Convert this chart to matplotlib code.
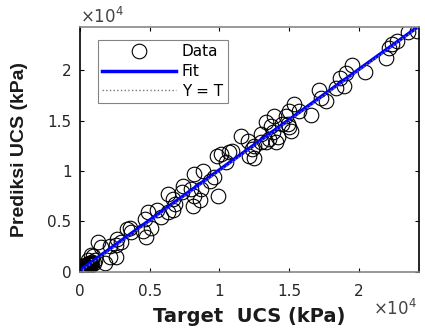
import matplotlib
matplotlib.use('Agg')
import matplotlib.pyplot as plt
import numpy as np

plt.rcParams['font.family'] = ['DejaVu Sans']

# ------------ Data (kPa) ---------------
target = [24150, 23500, 22700, 22350, 22150, 21930, 19500, 20430, 19070, 18640,
          18930, 18360, 17140, 17640, 17290, 15360, 15710, 16570, 14790, 15000,
          14500, 15000, 13930, 13360, 13710, 14930, 15140, 13860, 14210, 13570,
          13000, 13360, 14070, 11570, 12070, 12500, 13000, 10140, 9790, 10710,
          12500, 12360, 10930, 10500, 12140, 8210, 8790, 9640, 9290, 9860,
          7360, 7290, 6640, 8710, 8210, 8070, 7930, 6290, 6790, 6290,
          5790, 4860, 4640, 5070, 4710, 3570, 3640, 2930, 2570, 1290,
          1500, 790, 2570, 1790, 570, 2140, 2640, 3360, 4500, 5500,
          6640, 8570, 2140, 930,
          50, 100, 150, 200, 250, 300, 80, 120, 350, 400,
          450, 500, 60, 30, 180, 220, 280, 320, 380, 420,
          480, 550, 600, 650, 700, 750, 800, 900, 1000, 1100,
          40, 90, 140, 260, 20, 70, 160, 340, 520, 620]
pred = [23900, 23800, 22900, 22600, 22200, 21200, 20500, 19800, 19700, 19200,
        18400, 18200, 18000, 17000, 17200, 16700, 16000, 15600, 15500, 16000,
        14700, 14400, 15500, 14900, 14500, 14700, 14000, 13900, 13400, 13200,
        13700, 12900, 12900, 13500, 13000, 12500, 12900, 11700, 11500, 11900,
        11300, 12200, 12000, 10900, 11500, 9700, 10000, 9400, 9000, 7500,
        8500, 7900, 7200, 8200, 7500, 6500, 8200, 7700, 6700, 5900,
        5400, 5900, 5200, 4400, 3500, 4400, 4000, 3000, 2700, 3000,
        2500, 1700, 1500, 900, 1200, 2600, 3300, 4300, 4100, 6100,
        6100, 7100, 1500, 1600,
        80, 150, 60, 250, 180, 350, 300, 420, 200, 450,
        380, 600, 30, 120, 500, 80, 600, 450, 700, 550,
        300, 750, 500, 800, 650, 900, 700, 1000, 850, 1200,
        60, 220, 300, 320, 20, 160, 120, 520, 420, 900]

ticks = [0, 5000, 10000, 15000, 20000]
tick_labels = ['0', '0.5', '1', '1.5', '2']
lim = 24300

# ------------ Plot Setup ---------------
fig = plt.figure(figsize=(4.25, 3.28), dpi=100)
ax = fig.add_axes([0.188, 0.171, 0.798, 0.747])

p = np.polyfit(target, pred, 1)
xf = np.array([0, lim])

ax.plot(target, pred, 'o', mfc='none', mec='black', ms=10.5, mew=0.8, label='Data')
ax.plot(xf, np.polyval(p, xf), '-', color='#0000ff', lw=2.5, label='Fit')
ax.plot(xf, xf, ':', color='#777777', lw=1, label='Y = T')

ax.set_xlim(0, lim)
ax.set_ylim(0, lim)
ax.set_xticks(ticks)
ax.set_xticklabels(tick_labels)
ax.set_yticks(ticks)
ax.set_yticklabels(tick_labels)
ax.tick_params(direction='in', top=True, right=True, labelsize=11, length=3,
               labelcolor='#262626')
ax.tick_params(axis='x', pad=9)
ax.tick_params(axis='y', pad=6)

ax.set_xlabel('Target  UCS (kPa)', fontsize=14, fontweight='bold', color='#1a1a1a')
ax.xaxis.label.set_va('center')
ax.xaxis.set_label_coords(0.5, -0.184)
ax.set_ylabel('Prediksi UCS (kPa)', fontsize=14, fontweight='bold',
              family='Liberation Sans', color='#1a1a1a')
ax.yaxis.label.set_va('center')
ax.yaxis.set_label_coords(-0.177, 0.5)

ax.text(0.0, 1.016, r'$\times10^4$', transform=ax.transAxes, fontsize=12,
        ha='left', va='baseline', color='#444444')
ax.text(0.994, -0.176, r'$\times10^4$', transform=ax.transAxes, fontsize=12,
        ha='right', va='baseline', color='#444444')

for side in ['left', 'right']:
    ax.spines[side].set_color('black')
    ax.spines[side].set_linewidth(1.2)
for side in ['top', 'bottom']:
    ax.spines[side].set_color('#888888')
    ax.spines[side].set_linewidth(1.2)

leg = ax.legend(loc='upper left', bbox_to_anchor=(0.053, 0.947), fontsize=11,
                fancybox=False, handlelength=4.8, borderpad=0.3,
                labelspacing=0.3, handletextpad=0.4, borderaxespad=0)
leg.get_frame().set_edgecolor('#666666')
leg.get_frame().set_linewidth(0.8)

fig.savefig('out.png', dpi=100)
